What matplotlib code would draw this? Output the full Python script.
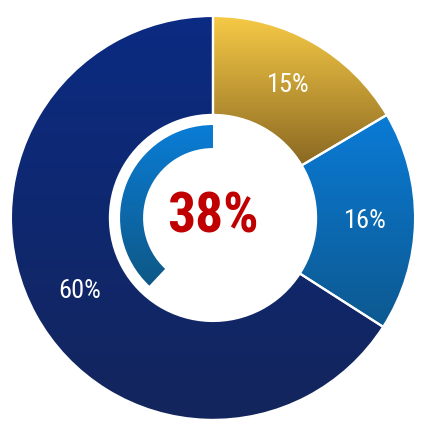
import numpy as np
import matplotlib.pyplot as plt
from matplotlib.patches import Wedge
from matplotlib.colors import LinearSegmentedColormap

# slice data
labels = ['15%', '16%', '60%']
values = [15, 16, 60]
top_colors = ['#f7cb46', '#0a7bd6', '#0b2b82']
bottom_colors = ['#8a6822', '#0d5990', '#13255c']

# inner progress arc
center_value = 38
arc_top = '#0a7dd6'
arc_bottom = '#0e5886'

plt.rcParams['font.family'] = ['Roboto Condensed', 'Liberation Sans', 'DejaVu Sans']

fig = plt.figure(figsize=(4.27, 4.29), dpi=100)
ax = fig.add_axes([0, 0, 1, 1])
ax.axis('off')


def fill_gradient(patch, c_top, c_bottom):
    ext = patch.get_path().get_extents()
    cmap = LinearSegmentedColormap.from_list('g', [c_bottom, c_top])
    grad = np.linspace(0, 1, 256).reshape(-1, 1)
    im = ax.imshow(grad, cmap=cmap, origin='lower', aspect='auto',
                   extent=[ext.x0, ext.x1, ext.y0, ext.y1], zorder=1)
    im.set_clip_path(patch)


wedges, texts = ax.pie(values, radius=1.0, startangle=90, counterclock=False,
                       labels=labels, labeldistance=0.755,
                       wedgeprops=dict(width=0.49, edgecolor='white', linewidth=1.6),
                       textprops=dict(color='white', fontsize=19, ha='center', va='center'))
for w, ct, cb in zip(wedges, top_colors, bottom_colors):
    w.set_facecolor('none')
    w.set_zorder(2)
    fill_gradient(w, ct, cb)
for t in texts:
    t.set_zorder(3)

arc = Wedge((0, 0), 0.46, 90, 90 + center_value / 100 * 360, width=0.114,
            facecolor='none', edgecolor='none', zorder=2)
ax.add_patch(arc)
fill_gradient(arc, arc_top, arc_bottom)

ax.text(0, 0, f'{center_value}%', color='#c00000', fontsize=40, fontweight='bold',
        ha='center', va='center', zorder=3)

ax.set_xlim(-1.054, 1.059)
ax.set_ylim(-1.045, 1.079)

fig.savefig('out.png', dpi=100)
